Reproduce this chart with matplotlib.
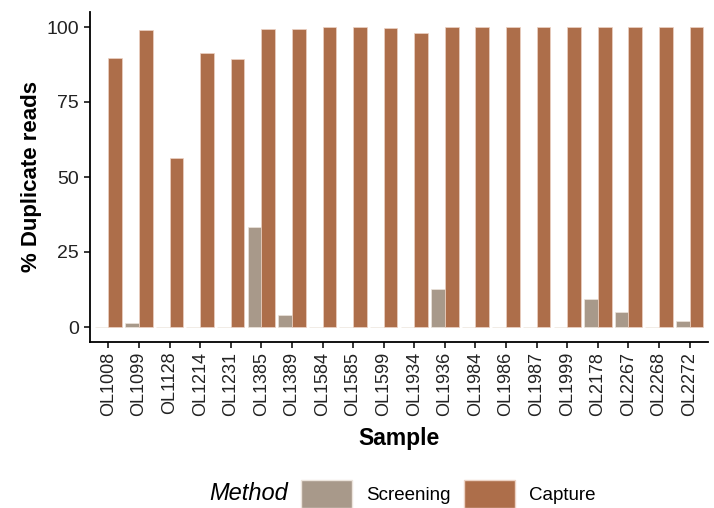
import matplotlib.pyplot as plt
import numpy as np
from matplotlib.patches import Patch

samples = ['OL1008', 'OL1099', 'OL1128', 'OL1214', 'OL1231', 'OL1385', 'OL1389',
           'OL1584', 'OL1585', 'OL1599', 'OL1934', 'OL1936', 'OL1984', 'OL1986',
           'OL1987', 'OL1999', 'OL2178', 'OL2267', 'OL2268', 'OL2272']
screening = [0, 1.2, 0, 0, 0, 33.4, 4.0, 0, 0, 0, 0, 12.6, 0, 0, 0, 0, 9.2, 5.1, 0, 2.1]
capture = [89.6, 99.0, 56.4, 91.4, 89.2, 99.5, 99.5, 99.9, 99.9, 99.7, 98.1, 99.9,
           99.9, 99.9, 99.9, 99.9, 99.9, 99.9, 99.9, 99.9]

col_screen = '#a8998a'
col_capture = '#ad6e4a'

plt.rcParams['font.family'] = ['Liberation Sans', 'DejaVu Sans']

fig = plt.figure(figsize=(7.14, 5.08), dpi=100)
ax = fig.add_axes([90/714, (508-342)/508, (708-90)/714, (342-12)/508])

x = np.arange(len(samples))
w = 0.45
ax.bar(x - w/2, screening, width=w, color=col_screen, edgecolor='#ece4dc', linewidth=0.5)
ax.bar(x + w/2, capture, width=w, color=col_capture, edgecolor='#ecd2c4', linewidth=0.5)

ax.set_xlim(-0.6, len(samples) - 0.4)
ax.set_ylim(-5, 105)
ax.set_xticks(x)
ax.set_xticklabels(samples, rotation=90, fontsize=13, color='#222222')
ax.set_yticks([0, 25, 50, 75, 100])
ax.tick_params(axis='y', labelsize=14, labelcolor='#222222', length=4, width=1.1, pad=4)
ax.tick_params(axis='x', length=4, width=1.1, pad=3)
for s in ['top', 'right']:
    ax.spines[s].set_visible(False)
for s in ['left', 'bottom']:
    ax.spines[s].set_linewidth(1.3)

ax.set_xlabel('Sample', fontsize=16.5, fontweight='bold', labelpad=8)
ax.set_ylabel('% Duplicate reads', fontsize=16, fontweight='bold', labelpad=3)

fig.text(249/714, 1 - 493/508, 'Method', fontsize=17, style='italic', ha='center', va='center')
handles = [Patch(facecolor=col_screen, edgecolor='#ece4dc', label='Screening'),
           Patch(facecolor=col_capture, edgecolor='#ecd2c4', label='Capture')]
fig.legend(handles=handles, ncol=2, loc='center left', bbox_to_anchor=(301/714, 1 - 494/508),
           frameon=False, fontsize=13.5, handlelength=2.7, handleheight=1.85,
           columnspacing=0.75, handletextpad=0.75, borderaxespad=0, borderpad=0)

fig.savefig('out.png', dpi=100)
